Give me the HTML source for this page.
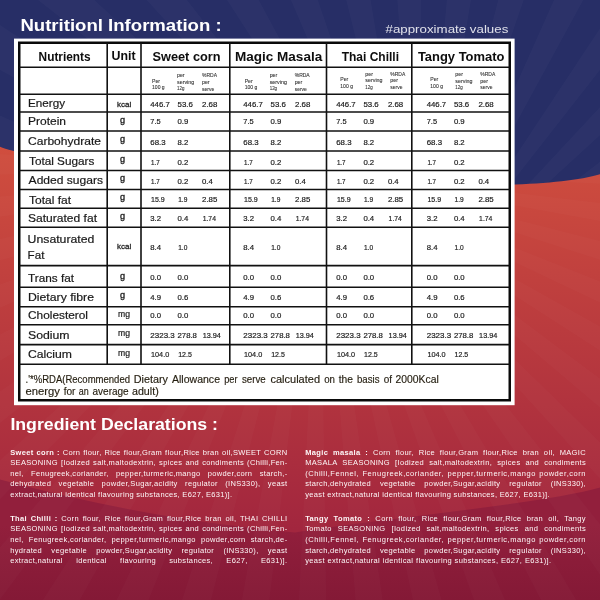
<!DOCTYPE html>
<html><head><meta charset="utf-8"><title>Nutritional Information</title>
<style>html,body{margin:0;padding:0;background:#272e66;}body{width:600px;height:600px;overflow:hidden;font-family:'Liberation Sans', sans-serif;}</style>
</head><body>
<svg width="600" height="600" viewBox="0 0 600 600" style="display:block;font-family:'Liberation Sans', sans-serif">
<defs>
<linearGradient id="rg" x1="0" y1="147" x2="0" y2="530" gradientUnits="userSpaceOnUse">
<stop offset="0" stop-color="rgb(208,78,62)"/><stop offset="1" stop-color="rgb(162,38,62)"/>
</linearGradient>
<linearGradient id="bg2" x1="0" y1="525" x2="0" y2="600" gradientUnits="userSpaceOnUse">
<stop offset="0" stop-color="rgb(146,31,60)"/><stop offset="1" stop-color="rgb(132,25,54)"/>
</linearGradient>
<clipPath id="redclip"><path d="M0,146.7 C50,168.6 499.5,204.3 600,174.3 L600,600 L0,600 Z"/></clipPath>
<filter id="soft" x="0" y="0" width="600" height="600" filterUnits="userSpaceOnUse"><feGaussianBlur stdDeviation="0.25"/></filter>
</defs>
<rect width="600" height="600" fill="#272e66"/>
<path fill="#ffffff" fill-opacity="0.022" d="M420,300 L-67,-457 L-6,-493 Z M420,300 L64,-527 L130,-552 Z M420,300 L205,-574 L274,-588 Z M420,300 L352,-597 L423,-600 Z M420,300 L500,-596 L571,-587 Z M420,300 L647,-571 L714,-550 Z M420,300 L787,-522 L850,-490 Z M420,300 L917,-450 L975,-409 Z M420,300 L1034,-358 L1084,-308 Z M420,300 L1134,-248 L1175,-190 Z M420,300 L1214,-123 L1245,-60 Z M420,300 L1273,13 L1293,81 Z M420,300 L1309,158 L1317,228 Z M420,300 L1320,306 L1317,376 Z M420,300 L1307,454 L1292,523 Z M420,300 L1269,597 L1243,663 Z M420,300 L1209,733 L1172,794 Z M420,300 L1127,857 L1081,911 Z M420,300 L1026,966 L971,1011 Z M420,300 L908,1056 L847,1092 Z M420,300 L777,1126 L711,1152 Z M420,300 L636,1174 L567,1188 Z M420,300 L489,1197 L419,1200 Z M420,300 L341,1196 L271,1188 Z M420,300 L194,1171 L127,1151 Z M420,300 L54,1122 L-9,1091 Z M420,300 L-76,1051 L-134,1009 Z M420,300 L-193,959 L-243,909 Z M420,300 L-293,849 L-334,791 Z M420,300 L-374,724 L-405,661 Z M420,300 L-433,588 L-453,520 Z M420,300 L-468,444 L-477,373 Z M420,300 L-480,295 L-477,225 Z M420,300 L-467,147 L-452,78 Z M420,300 L-430,4 L-404,-62 Z M420,300 L-369,-132 L-333,-193 Z M420,300 L-288,-256 L-242,-310 Z M420,300 L-186,-365 L-132,-411 Z"/>
<path d="M0,146.7 C50,168.6 499.5,204.3 600,174.3 L600,600 L0,600 Z" fill="url(#rg)"/>
<path d="M0,479.6 Q147,519.3 295,532.5 C395,516.5 540,504.3 600,487.5 L600,600 L0,600 Z" fill="url(#bg2)"/>
<path clip-path="url(#redclip)" fill="#ffffff" fill-opacity="0.02" d="M320,170 L307,-730 L364,-729 Z M320,170 L425,-724 L481,-715 Z M320,170 L541,-703 L595,-687 Z M320,170 L653,-666 L705,-644 Z M320,170 L759,-616 L808,-587 Z M320,170 L858,-552 L902,-516 Z M320,170 L947,-475 L987,-435 Z M320,170 L1026,-388 L1060,-342 Z M320,170 L1093,-291 L1120,-241 Z M320,170 L1147,-186 L1167,-133 Z M320,170 L1186,-75 L1200,-20 Z M320,170 L1211,40 L1217,96 Z M320,170 L1220,157 L1219,214 Z M320,170 L1214,275 L1205,331 Z M320,170 L1193,391 L1177,445 Z M320,170 L1156,503 L1134,555 Z M320,170 L1106,609 L1077,658 Z M320,170 L1042,708 L1006,752 Z M320,170 L965,797 L925,837 Z M320,170 L878,876 L832,910 Z M320,170 L781,943 L731,970 Z M320,170 L676,997 L623,1017 Z M320,170 L565,1036 L510,1050 Z M320,170 L450,1061 L394,1067 Z M320,170 L333,1070 L276,1069 Z M320,170 L215,1064 L159,1055 Z M320,170 L99,1043 L45,1027 Z M320,170 L-13,1006 L-65,984 Z M320,170 L-119,956 L-168,927 Z M320,170 L-218,892 L-262,856 Z M320,170 L-307,815 L-347,775 Z M320,170 L-386,728 L-420,682 Z M320,170 L-453,631 L-480,581 Z M320,170 L-507,526 L-527,473 Z M320,170 L-546,415 L-560,360 Z M320,170 L-571,300 L-577,244 Z M320,170 L-580,183 L-579,126 Z M320,170 L-574,65 L-565,9 Z M320,170 L-553,-51 L-537,-105 Z M320,170 L-516,-163 L-494,-215 Z M320,170 L-466,-269 L-437,-318 Z M320,170 L-402,-368 L-366,-412 Z M320,170 L-325,-457 L-285,-497 Z M320,170 L-238,-536 L-192,-570 Z M320,170 L-141,-603 L-91,-630 Z M320,170 L-36,-657 L17,-677 Z M320,170 L75,-696 L130,-710 Z M320,170 L190,-721 L246,-727 Z"/>
<rect x="14" y="38.6" width="500.6" height="366.6" fill="#ffffff"/>
<rect x="19.25" y="42.75" width="490.5" height="357.5" fill="none" stroke="#0a0a0a" stroke-width="2.5"/>
<g stroke="#111" stroke-width="1.6">
<line x1="19" y1="67.2" x2="510" y2="67.2"/>
<line x1="19" y1="94.2" x2="510" y2="94.2"/>
<line x1="19" y1="112" x2="510" y2="112"/>
<line x1="19" y1="131" x2="510" y2="131"/>
<line x1="19" y1="151" x2="510" y2="151"/>
<line x1="19" y1="170.5" x2="510" y2="170.5"/>
<line x1="19" y1="189.5" x2="510" y2="189.5"/>
<line x1="19" y1="208.2" x2="510" y2="208.2"/>
<line x1="19" y1="227.3" x2="510" y2="227.3"/>
<line x1="19" y1="265.6" x2="510" y2="265.6"/>
<line x1="19" y1="287.3" x2="510" y2="287.3"/>
<line x1="19" y1="306.8" x2="510" y2="306.8"/>
<line x1="19" y1="324.8" x2="510" y2="324.8"/>
<line x1="19" y1="344.6" x2="510" y2="344.6"/>
<line x1="19" y1="364.2" x2="510" y2="364.2"/>
<line x1="107.2" y1="43" x2="107.2" y2="364.2"/>
<line x1="141" y1="43" x2="141" y2="364.2"/>
<line x1="229.8" y1="43" x2="229.8" y2="364.2"/>
<line x1="326.5" y1="43" x2="326.5" y2="364.2"/>
<line x1="411.8" y1="43" x2="411.8" y2="364.2"/>
</g>
<g filter="url(#soft)">
<g>
<text x="20.40" y="31.40" font-size="15.6" fill="#ffffff" font-weight="bold" textLength="201.20" lengthAdjust="spacingAndGlyphs">Nutritionl Information :</text>
<text x="385.50" y="32.50" font-size="11.3" fill="#dfe0ea" textLength="122.80" lengthAdjust="spacingAndGlyphs">#approximate values</text>
<text x="10.40" y="430.00" font-size="15.6" fill="#ffffff" font-weight="bold" textLength="207.60" lengthAdjust="spacingAndGlyphs">Ingredient Declarations :</text>
<text x="38.60" y="61.00" font-size="13.2" fill="#0a0a0a" font-weight="bold" textLength="52.00" lengthAdjust="spacingAndGlyphs">Nutrients</text>
<text x="111.60" y="60.20" font-size="13.2" fill="#0a0a0a" font-weight="bold" textLength="24.00" lengthAdjust="spacingAndGlyphs">Unit</text>
<text x="152.50" y="61.00" font-size="13.2" fill="#0a0a0a" font-weight="bold" textLength="68.00" lengthAdjust="spacingAndGlyphs">Sweet corn</text>
<text x="235.00" y="61.00" font-size="13.2" fill="#0a0a0a" font-weight="bold" textLength="87.20" lengthAdjust="spacingAndGlyphs">Magic Masala</text>
<text x="341.70" y="60.80" font-size="13.2" fill="#0a0a0a" font-weight="bold" textLength="57.30" lengthAdjust="spacingAndGlyphs">Thai Chilli</text>
<text x="417.90" y="61.00" font-size="13.2" fill="#0a0a0a" font-weight="bold" textLength="86.60" lengthAdjust="spacingAndGlyphs">Tangy Tomato</text>
<text x="28.00" y="106.60" font-size="11.3" fill="#1a1a1a" textLength="37.00" lengthAdjust="spacingAndGlyphs" stroke="#1a1a1a" stroke-width="0.2">Energy</text>
<text x="28.00" y="125.40" font-size="11.3" fill="#1a1a1a" textLength="38.00" lengthAdjust="spacingAndGlyphs" stroke="#1a1a1a" stroke-width="0.2">Protein</text>
<text x="28.00" y="145.40" font-size="11.3" fill="#1a1a1a" textLength="73.00" lengthAdjust="spacingAndGlyphs" stroke="#1a1a1a" stroke-width="0.2">Carbohydrate</text>
<text x="29.00" y="165.00" font-size="11.3" fill="#1a1a1a" textLength="65.40" lengthAdjust="spacingAndGlyphs" stroke="#1a1a1a" stroke-width="0.2">Total Sugars</text>
<text x="28.60" y="184.40" font-size="11.3" fill="#1a1a1a" textLength="74.40" lengthAdjust="spacingAndGlyphs" stroke="#1a1a1a" stroke-width="0.2">Added sugars</text>
<text x="29.00" y="203.60" font-size="11.3" fill="#1a1a1a" textLength="42.00" lengthAdjust="spacingAndGlyphs" stroke="#1a1a1a" stroke-width="0.2">Total fat</text>
<text x="28.00" y="222.40" font-size="11.3" fill="#1a1a1a" textLength="69.00" lengthAdjust="spacingAndGlyphs" stroke="#1a1a1a" stroke-width="0.2">Saturated fat</text>
<text x="27.60" y="243.00" font-size="11.3" fill="#1a1a1a" textLength="66.80" lengthAdjust="spacingAndGlyphs" stroke="#1a1a1a" stroke-width="0.2">Unsaturated</text>
<text x="27.60" y="258.60" font-size="11.3" fill="#1a1a1a" textLength="16.80" lengthAdjust="spacingAndGlyphs" stroke="#1a1a1a" stroke-width="0.2">Fat</text>
<text x="28.00" y="281.60" font-size="11.3" fill="#1a1a1a" textLength="46.00" lengthAdjust="spacingAndGlyphs" stroke="#1a1a1a" stroke-width="0.2">Trans fat</text>
<text x="28.00" y="301.00" font-size="11.3" fill="#1a1a1a" textLength="66.00" lengthAdjust="spacingAndGlyphs" stroke="#1a1a1a" stroke-width="0.2">Dietary fibre</text>
<text x="28.00" y="319.40" font-size="11.3" fill="#1a1a1a" textLength="60.00" lengthAdjust="spacingAndGlyphs" stroke="#1a1a1a" stroke-width="0.2">Cholesterol</text>
<text x="28.00" y="339.00" font-size="11.3" fill="#1a1a1a" textLength="41.60" lengthAdjust="spacingAndGlyphs" stroke="#1a1a1a" stroke-width="0.2">Sodium</text>
<text x="28.00" y="358.40" font-size="11.3" fill="#1a1a1a" textLength="44.00" lengthAdjust="spacingAndGlyphs" stroke="#1a1a1a" stroke-width="0.2">Calcium</text>
<text x="117.00" y="106.60" font-size="7.8" fill="#222" textLength="14.20" lengthAdjust="spacingAndGlyphs" stroke="#222" stroke-width="0.28">kcal</text>
<text x="120.00" y="122.70" font-size="8.7" fill="#222" textLength="5.10" lengthAdjust="spacingAndGlyphs" stroke="#222" stroke-width="0.32">g</text>
<text x="120.00" y="142.40" font-size="8.7" fill="#222" textLength="5.10" lengthAdjust="spacingAndGlyphs" stroke="#222" stroke-width="0.32">g</text>
<text x="120.00" y="162.10" font-size="8.7" fill="#222" textLength="5.10" lengthAdjust="spacingAndGlyphs" stroke="#222" stroke-width="0.32">g</text>
<text x="120.00" y="181.40" font-size="8.7" fill="#222" textLength="5.10" lengthAdjust="spacingAndGlyphs" stroke="#222" stroke-width="0.32">g</text>
<text x="120.00" y="200.10" font-size="8.7" fill="#222" textLength="5.10" lengthAdjust="spacingAndGlyphs" stroke="#222" stroke-width="0.32">g</text>
<text x="120.00" y="219.40" font-size="8.7" fill="#222" textLength="5.10" lengthAdjust="spacingAndGlyphs" stroke="#222" stroke-width="0.32">g</text>
<text x="117.00" y="249.00" font-size="7.8" fill="#222" textLength="14.20" lengthAdjust="spacingAndGlyphs" stroke="#222" stroke-width="0.28">kcal</text>
<text x="120.00" y="278.70" font-size="8.7" fill="#222" textLength="5.10" lengthAdjust="spacingAndGlyphs" stroke="#222" stroke-width="0.32">g</text>
<text x="120.00" y="298.40" font-size="8.7" fill="#222" textLength="5.10" lengthAdjust="spacingAndGlyphs" stroke="#222" stroke-width="0.32">g</text>
<text x="118.00" y="316.80" font-size="8.3" fill="#222" textLength="12.00" lengthAdjust="spacingAndGlyphs" stroke="#222" stroke-width="0.2">mg</text>
<text x="118.00" y="336.40" font-size="8.3" fill="#222" textLength="12.00" lengthAdjust="spacingAndGlyphs" stroke="#222" stroke-width="0.2">mg</text>
<text x="118.00" y="355.80" font-size="8.3" fill="#222" textLength="12.00" lengthAdjust="spacingAndGlyphs" stroke="#222" stroke-width="0.2">mg</text>
<text x="150.30" y="106.80" font-size="8.1" fill="#1c1c1c" textLength="19.45" lengthAdjust="spacingAndGlyphs" stroke="#1c1c1c" stroke-width="0.2">446.7</text>
<text x="177.50" y="106.80" font-size="8.1" fill="#1c1c1c" textLength="15.35" lengthAdjust="spacingAndGlyphs" stroke="#1c1c1c" stroke-width="0.2">53.6</text>
<text x="202.00" y="106.80" font-size="8.1" fill="#1c1c1c" textLength="15.35" lengthAdjust="spacingAndGlyphs" stroke="#1c1c1c" stroke-width="0.2">2.68</text>
<text x="243.30" y="106.80" font-size="8.1" fill="#1c1c1c" textLength="19.45" lengthAdjust="spacingAndGlyphs" stroke="#1c1c1c" stroke-width="0.2">446.7</text>
<text x="270.50" y="106.80" font-size="8.1" fill="#1c1c1c" textLength="15.35" lengthAdjust="spacingAndGlyphs" stroke="#1c1c1c" stroke-width="0.2">53.6</text>
<text x="295.00" y="106.80" font-size="8.1" fill="#1c1c1c" textLength="15.35" lengthAdjust="spacingAndGlyphs" stroke="#1c1c1c" stroke-width="0.2">2.68</text>
<text x="336.20" y="106.80" font-size="8.1" fill="#1c1c1c" textLength="19.45" lengthAdjust="spacingAndGlyphs" stroke="#1c1c1c" stroke-width="0.2">446.7</text>
<text x="363.40" y="106.80" font-size="8.1" fill="#1c1c1c" textLength="15.35" lengthAdjust="spacingAndGlyphs" stroke="#1c1c1c" stroke-width="0.2">53.6</text>
<text x="387.90" y="106.80" font-size="8.1" fill="#1c1c1c" textLength="15.35" lengthAdjust="spacingAndGlyphs" stroke="#1c1c1c" stroke-width="0.2">2.68</text>
<text x="426.70" y="106.80" font-size="8.1" fill="#1c1c1c" textLength="19.45" lengthAdjust="spacingAndGlyphs" stroke="#1c1c1c" stroke-width="0.2">446.7</text>
<text x="453.90" y="106.80" font-size="8.1" fill="#1c1c1c" textLength="15.35" lengthAdjust="spacingAndGlyphs" stroke="#1c1c1c" stroke-width="0.2">53.6</text>
<text x="478.40" y="106.80" font-size="8.1" fill="#1c1c1c" textLength="15.35" lengthAdjust="spacingAndGlyphs" stroke="#1c1c1c" stroke-width="0.2">2.68</text>
<text x="150.30" y="124.20" font-size="8.1" fill="#1c1c1c" textLength="10.35" lengthAdjust="spacingAndGlyphs" stroke="#1c1c1c" stroke-width="0.2">7.5</text>
<text x="177.50" y="124.20" font-size="8.1" fill="#1c1c1c" textLength="10.80" lengthAdjust="spacingAndGlyphs" stroke="#1c1c1c" stroke-width="0.2">0.9</text>
<text x="243.30" y="124.20" font-size="8.1" fill="#1c1c1c" textLength="10.35" lengthAdjust="spacingAndGlyphs" stroke="#1c1c1c" stroke-width="0.2">7.5</text>
<text x="270.50" y="124.20" font-size="8.1" fill="#1c1c1c" textLength="10.80" lengthAdjust="spacingAndGlyphs" stroke="#1c1c1c" stroke-width="0.2">0.9</text>
<text x="336.20" y="124.20" font-size="8.1" fill="#1c1c1c" textLength="10.35" lengthAdjust="spacingAndGlyphs" stroke="#1c1c1c" stroke-width="0.2">7.5</text>
<text x="363.40" y="124.20" font-size="8.1" fill="#1c1c1c" textLength="10.80" lengthAdjust="spacingAndGlyphs" stroke="#1c1c1c" stroke-width="0.2">0.9</text>
<text x="426.70" y="124.20" font-size="8.1" fill="#1c1c1c" textLength="10.35" lengthAdjust="spacingAndGlyphs" stroke="#1c1c1c" stroke-width="0.2">7.5</text>
<text x="453.90" y="124.20" font-size="8.1" fill="#1c1c1c" textLength="10.80" lengthAdjust="spacingAndGlyphs" stroke="#1c1c1c" stroke-width="0.2">0.9</text>
<text x="150.30" y="144.80" font-size="8.1" fill="#1c1c1c" textLength="15.35" lengthAdjust="spacingAndGlyphs" stroke="#1c1c1c" stroke-width="0.2">68.3</text>
<text x="177.50" y="144.80" font-size="8.1" fill="#1c1c1c" textLength="10.80" lengthAdjust="spacingAndGlyphs" stroke="#1c1c1c" stroke-width="0.2">8.2</text>
<text x="243.30" y="144.80" font-size="8.1" fill="#1c1c1c" textLength="15.35" lengthAdjust="spacingAndGlyphs" stroke="#1c1c1c" stroke-width="0.2">68.3</text>
<text x="270.50" y="144.80" font-size="8.1" fill="#1c1c1c" textLength="10.80" lengthAdjust="spacingAndGlyphs" stroke="#1c1c1c" stroke-width="0.2">8.2</text>
<text x="336.20" y="144.80" font-size="8.1" fill="#1c1c1c" textLength="15.35" lengthAdjust="spacingAndGlyphs" stroke="#1c1c1c" stroke-width="0.2">68.3</text>
<text x="363.40" y="144.80" font-size="8.1" fill="#1c1c1c" textLength="10.80" lengthAdjust="spacingAndGlyphs" stroke="#1c1c1c" stroke-width="0.2">8.2</text>
<text x="426.70" y="144.80" font-size="8.1" fill="#1c1c1c" textLength="15.35" lengthAdjust="spacingAndGlyphs" stroke="#1c1c1c" stroke-width="0.2">68.3</text>
<text x="453.90" y="144.80" font-size="8.1" fill="#1c1c1c" textLength="10.80" lengthAdjust="spacingAndGlyphs" stroke="#1c1c1c" stroke-width="0.2">8.2</text>
<text x="151.00" y="164.60" font-size="8.1" fill="#1c1c1c" textLength="8.70" lengthAdjust="spacingAndGlyphs" stroke="#1c1c1c" stroke-width="0.2">1.7</text>
<text x="177.50" y="164.60" font-size="8.1" fill="#1c1c1c" textLength="10.80" lengthAdjust="spacingAndGlyphs" stroke="#1c1c1c" stroke-width="0.2">0.2</text>
<text x="244.00" y="164.60" font-size="8.1" fill="#1c1c1c" textLength="8.70" lengthAdjust="spacingAndGlyphs" stroke="#1c1c1c" stroke-width="0.2">1.7</text>
<text x="270.50" y="164.60" font-size="8.1" fill="#1c1c1c" textLength="10.80" lengthAdjust="spacingAndGlyphs" stroke="#1c1c1c" stroke-width="0.2">0.2</text>
<text x="336.90" y="164.60" font-size="8.1" fill="#1c1c1c" textLength="8.70" lengthAdjust="spacingAndGlyphs" stroke="#1c1c1c" stroke-width="0.2">1.7</text>
<text x="363.40" y="164.60" font-size="8.1" fill="#1c1c1c" textLength="10.80" lengthAdjust="spacingAndGlyphs" stroke="#1c1c1c" stroke-width="0.2">0.2</text>
<text x="427.40" y="164.60" font-size="8.1" fill="#1c1c1c" textLength="8.70" lengthAdjust="spacingAndGlyphs" stroke="#1c1c1c" stroke-width="0.2">1.7</text>
<text x="453.90" y="164.60" font-size="8.1" fill="#1c1c1c" textLength="10.80" lengthAdjust="spacingAndGlyphs" stroke="#1c1c1c" stroke-width="0.2">0.2</text>
<text x="151.00" y="183.70" font-size="8.1" fill="#1c1c1c" textLength="8.70" lengthAdjust="spacingAndGlyphs" stroke="#1c1c1c" stroke-width="0.2">1.7</text>
<text x="177.50" y="183.70" font-size="8.1" fill="#1c1c1c" textLength="10.80" lengthAdjust="spacingAndGlyphs" stroke="#1c1c1c" stroke-width="0.2">0.2</text>
<text x="202.00" y="183.70" font-size="8.1" fill="#1c1c1c" textLength="10.80" lengthAdjust="spacingAndGlyphs" stroke="#1c1c1c" stroke-width="0.2">0.4</text>
<text x="244.00" y="183.70" font-size="8.1" fill="#1c1c1c" textLength="8.70" lengthAdjust="spacingAndGlyphs" stroke="#1c1c1c" stroke-width="0.2">1.7</text>
<text x="270.50" y="183.70" font-size="8.1" fill="#1c1c1c" textLength="10.80" lengthAdjust="spacingAndGlyphs" stroke="#1c1c1c" stroke-width="0.2">0.2</text>
<text x="295.00" y="183.70" font-size="8.1" fill="#1c1c1c" textLength="10.80" lengthAdjust="spacingAndGlyphs" stroke="#1c1c1c" stroke-width="0.2">0.4</text>
<text x="336.90" y="183.70" font-size="8.1" fill="#1c1c1c" textLength="8.70" lengthAdjust="spacingAndGlyphs" stroke="#1c1c1c" stroke-width="0.2">1.7</text>
<text x="363.40" y="183.70" font-size="8.1" fill="#1c1c1c" textLength="10.80" lengthAdjust="spacingAndGlyphs" stroke="#1c1c1c" stroke-width="0.2">0.2</text>
<text x="387.90" y="183.70" font-size="8.1" fill="#1c1c1c" textLength="10.80" lengthAdjust="spacingAndGlyphs" stroke="#1c1c1c" stroke-width="0.2">0.4</text>
<text x="427.40" y="183.70" font-size="8.1" fill="#1c1c1c" textLength="8.70" lengthAdjust="spacingAndGlyphs" stroke="#1c1c1c" stroke-width="0.2">1.7</text>
<text x="453.90" y="183.70" font-size="8.1" fill="#1c1c1c" textLength="10.80" lengthAdjust="spacingAndGlyphs" stroke="#1c1c1c" stroke-width="0.2">0.2</text>
<text x="478.40" y="183.70" font-size="8.1" fill="#1c1c1c" textLength="10.80" lengthAdjust="spacingAndGlyphs" stroke="#1c1c1c" stroke-width="0.2">0.4</text>
<text x="151.00" y="201.90" font-size="8.1" fill="#1c1c1c" textLength="13.70" lengthAdjust="spacingAndGlyphs" stroke="#1c1c1c" stroke-width="0.2">15.9</text>
<text x="178.20" y="201.90" font-size="8.1" fill="#1c1c1c" textLength="9.15" lengthAdjust="spacingAndGlyphs" stroke="#1c1c1c" stroke-width="0.2">1.9</text>
<text x="202.00" y="201.90" font-size="8.1" fill="#1c1c1c" textLength="15.35" lengthAdjust="spacingAndGlyphs" stroke="#1c1c1c" stroke-width="0.2">2.85</text>
<text x="244.00" y="201.90" font-size="8.1" fill="#1c1c1c" textLength="13.70" lengthAdjust="spacingAndGlyphs" stroke="#1c1c1c" stroke-width="0.2">15.9</text>
<text x="271.20" y="201.90" font-size="8.1" fill="#1c1c1c" textLength="9.15" lengthAdjust="spacingAndGlyphs" stroke="#1c1c1c" stroke-width="0.2">1.9</text>
<text x="295.00" y="201.90" font-size="8.1" fill="#1c1c1c" textLength="15.35" lengthAdjust="spacingAndGlyphs" stroke="#1c1c1c" stroke-width="0.2">2.85</text>
<text x="336.90" y="201.90" font-size="8.1" fill="#1c1c1c" textLength="13.70" lengthAdjust="spacingAndGlyphs" stroke="#1c1c1c" stroke-width="0.2">15.9</text>
<text x="364.10" y="201.90" font-size="8.1" fill="#1c1c1c" textLength="9.15" lengthAdjust="spacingAndGlyphs" stroke="#1c1c1c" stroke-width="0.2">1.9</text>
<text x="387.90" y="201.90" font-size="8.1" fill="#1c1c1c" textLength="15.35" lengthAdjust="spacingAndGlyphs" stroke="#1c1c1c" stroke-width="0.2">2.85</text>
<text x="427.40" y="201.90" font-size="8.1" fill="#1c1c1c" textLength="13.70" lengthAdjust="spacingAndGlyphs" stroke="#1c1c1c" stroke-width="0.2">15.9</text>
<text x="454.60" y="201.90" font-size="8.1" fill="#1c1c1c" textLength="9.15" lengthAdjust="spacingAndGlyphs" stroke="#1c1c1c" stroke-width="0.2">1.9</text>
<text x="478.40" y="201.90" font-size="8.1" fill="#1c1c1c" textLength="15.35" lengthAdjust="spacingAndGlyphs" stroke="#1c1c1c" stroke-width="0.2">2.85</text>
<text x="150.30" y="221.00" font-size="8.1" fill="#1c1c1c" textLength="10.80" lengthAdjust="spacingAndGlyphs" stroke="#1c1c1c" stroke-width="0.2">3.2</text>
<text x="177.50" y="221.00" font-size="8.1" fill="#1c1c1c" textLength="10.80" lengthAdjust="spacingAndGlyphs" stroke="#1c1c1c" stroke-width="0.2">0.4</text>
<text x="202.70" y="221.00" font-size="8.1" fill="#1c1c1c" textLength="13.25" lengthAdjust="spacingAndGlyphs" stroke="#1c1c1c" stroke-width="0.2">1.74</text>
<text x="243.30" y="221.00" font-size="8.1" fill="#1c1c1c" textLength="10.80" lengthAdjust="spacingAndGlyphs" stroke="#1c1c1c" stroke-width="0.2">3.2</text>
<text x="270.50" y="221.00" font-size="8.1" fill="#1c1c1c" textLength="10.80" lengthAdjust="spacingAndGlyphs" stroke="#1c1c1c" stroke-width="0.2">0.4</text>
<text x="295.70" y="221.00" font-size="8.1" fill="#1c1c1c" textLength="13.25" lengthAdjust="spacingAndGlyphs" stroke="#1c1c1c" stroke-width="0.2">1.74</text>
<text x="336.20" y="221.00" font-size="8.1" fill="#1c1c1c" textLength="10.80" lengthAdjust="spacingAndGlyphs" stroke="#1c1c1c" stroke-width="0.2">3.2</text>
<text x="363.40" y="221.00" font-size="8.1" fill="#1c1c1c" textLength="10.80" lengthAdjust="spacingAndGlyphs" stroke="#1c1c1c" stroke-width="0.2">0.4</text>
<text x="388.60" y="221.00" font-size="8.1" fill="#1c1c1c" textLength="13.25" lengthAdjust="spacingAndGlyphs" stroke="#1c1c1c" stroke-width="0.2">1.74</text>
<text x="426.70" y="221.00" font-size="8.1" fill="#1c1c1c" textLength="10.80" lengthAdjust="spacingAndGlyphs" stroke="#1c1c1c" stroke-width="0.2">3.2</text>
<text x="453.90" y="221.00" font-size="8.1" fill="#1c1c1c" textLength="10.80" lengthAdjust="spacingAndGlyphs" stroke="#1c1c1c" stroke-width="0.2">0.4</text>
<text x="479.10" y="221.00" font-size="8.1" fill="#1c1c1c" textLength="13.25" lengthAdjust="spacingAndGlyphs" stroke="#1c1c1c" stroke-width="0.2">1.74</text>
<text x="150.30" y="249.50" font-size="8.1" fill="#1c1c1c" textLength="10.80" lengthAdjust="spacingAndGlyphs" stroke="#1c1c1c" stroke-width="0.2">8.4</text>
<text x="178.20" y="249.50" font-size="8.1" fill="#1c1c1c" textLength="9.15" lengthAdjust="spacingAndGlyphs" stroke="#1c1c1c" stroke-width="0.2">1.0</text>
<text x="243.30" y="249.50" font-size="8.1" fill="#1c1c1c" textLength="10.80" lengthAdjust="spacingAndGlyphs" stroke="#1c1c1c" stroke-width="0.2">8.4</text>
<text x="271.20" y="249.50" font-size="8.1" fill="#1c1c1c" textLength="9.15" lengthAdjust="spacingAndGlyphs" stroke="#1c1c1c" stroke-width="0.2">1.0</text>
<text x="336.20" y="249.50" font-size="8.1" fill="#1c1c1c" textLength="10.80" lengthAdjust="spacingAndGlyphs" stroke="#1c1c1c" stroke-width="0.2">8.4</text>
<text x="364.10" y="249.50" font-size="8.1" fill="#1c1c1c" textLength="9.15" lengthAdjust="spacingAndGlyphs" stroke="#1c1c1c" stroke-width="0.2">1.0</text>
<text x="426.70" y="249.50" font-size="8.1" fill="#1c1c1c" textLength="10.80" lengthAdjust="spacingAndGlyphs" stroke="#1c1c1c" stroke-width="0.2">8.4</text>
<text x="454.60" y="249.50" font-size="8.1" fill="#1c1c1c" textLength="9.15" lengthAdjust="spacingAndGlyphs" stroke="#1c1c1c" stroke-width="0.2">1.0</text>
<text x="150.30" y="280.20" font-size="8.1" fill="#1c1c1c" textLength="10.80" lengthAdjust="spacingAndGlyphs" stroke="#1c1c1c" stroke-width="0.2">0.0</text>
<text x="177.50" y="280.20" font-size="8.1" fill="#1c1c1c" textLength="10.80" lengthAdjust="spacingAndGlyphs" stroke="#1c1c1c" stroke-width="0.2">0.0</text>
<text x="243.30" y="280.20" font-size="8.1" fill="#1c1c1c" textLength="10.80" lengthAdjust="spacingAndGlyphs" stroke="#1c1c1c" stroke-width="0.2">0.0</text>
<text x="270.50" y="280.20" font-size="8.1" fill="#1c1c1c" textLength="10.80" lengthAdjust="spacingAndGlyphs" stroke="#1c1c1c" stroke-width="0.2">0.0</text>
<text x="336.20" y="280.20" font-size="8.1" fill="#1c1c1c" textLength="10.80" lengthAdjust="spacingAndGlyphs" stroke="#1c1c1c" stroke-width="0.2">0.0</text>
<text x="363.40" y="280.20" font-size="8.1" fill="#1c1c1c" textLength="10.80" lengthAdjust="spacingAndGlyphs" stroke="#1c1c1c" stroke-width="0.2">0.0</text>
<text x="426.70" y="280.20" font-size="8.1" fill="#1c1c1c" textLength="10.80" lengthAdjust="spacingAndGlyphs" stroke="#1c1c1c" stroke-width="0.2">0.0</text>
<text x="453.90" y="280.20" font-size="8.1" fill="#1c1c1c" textLength="10.80" lengthAdjust="spacingAndGlyphs" stroke="#1c1c1c" stroke-width="0.2">0.0</text>
<text x="150.30" y="300.30" font-size="8.1" fill="#1c1c1c" textLength="10.80" lengthAdjust="spacingAndGlyphs" stroke="#1c1c1c" stroke-width="0.2">4.9</text>
<text x="177.50" y="300.30" font-size="8.1" fill="#1c1c1c" textLength="10.80" lengthAdjust="spacingAndGlyphs" stroke="#1c1c1c" stroke-width="0.2">0.6</text>
<text x="243.30" y="300.30" font-size="8.1" fill="#1c1c1c" textLength="10.80" lengthAdjust="spacingAndGlyphs" stroke="#1c1c1c" stroke-width="0.2">4.9</text>
<text x="270.50" y="300.30" font-size="8.1" fill="#1c1c1c" textLength="10.80" lengthAdjust="spacingAndGlyphs" stroke="#1c1c1c" stroke-width="0.2">0.6</text>
<text x="336.20" y="300.30" font-size="8.1" fill="#1c1c1c" textLength="10.80" lengthAdjust="spacingAndGlyphs" stroke="#1c1c1c" stroke-width="0.2">4.9</text>
<text x="363.40" y="300.30" font-size="8.1" fill="#1c1c1c" textLength="10.80" lengthAdjust="spacingAndGlyphs" stroke="#1c1c1c" stroke-width="0.2">0.6</text>
<text x="426.70" y="300.30" font-size="8.1" fill="#1c1c1c" textLength="10.80" lengthAdjust="spacingAndGlyphs" stroke="#1c1c1c" stroke-width="0.2">4.9</text>
<text x="453.90" y="300.30" font-size="8.1" fill="#1c1c1c" textLength="10.80" lengthAdjust="spacingAndGlyphs" stroke="#1c1c1c" stroke-width="0.2">0.6</text>
<text x="150.30" y="317.80" font-size="8.1" fill="#1c1c1c" textLength="10.80" lengthAdjust="spacingAndGlyphs" stroke="#1c1c1c" stroke-width="0.2">0.0</text>
<text x="177.50" y="317.80" font-size="8.1" fill="#1c1c1c" textLength="10.80" lengthAdjust="spacingAndGlyphs" stroke="#1c1c1c" stroke-width="0.2">0.0</text>
<text x="243.30" y="317.80" font-size="8.1" fill="#1c1c1c" textLength="10.80" lengthAdjust="spacingAndGlyphs" stroke="#1c1c1c" stroke-width="0.2">0.0</text>
<text x="270.50" y="317.80" font-size="8.1" fill="#1c1c1c" textLength="10.80" lengthAdjust="spacingAndGlyphs" stroke="#1c1c1c" stroke-width="0.2">0.0</text>
<text x="336.20" y="317.80" font-size="8.1" fill="#1c1c1c" textLength="10.80" lengthAdjust="spacingAndGlyphs" stroke="#1c1c1c" stroke-width="0.2">0.0</text>
<text x="363.40" y="317.80" font-size="8.1" fill="#1c1c1c" textLength="10.80" lengthAdjust="spacingAndGlyphs" stroke="#1c1c1c" stroke-width="0.2">0.0</text>
<text x="426.70" y="317.80" font-size="8.1" fill="#1c1c1c" textLength="10.80" lengthAdjust="spacingAndGlyphs" stroke="#1c1c1c" stroke-width="0.2">0.0</text>
<text x="453.90" y="317.80" font-size="8.1" fill="#1c1c1c" textLength="10.80" lengthAdjust="spacingAndGlyphs" stroke="#1c1c1c" stroke-width="0.2">0.0</text>
<text x="150.30" y="337.60" font-size="8.1" fill="#1c1c1c" textLength="24.45" lengthAdjust="spacingAndGlyphs" stroke="#1c1c1c" stroke-width="0.2">2323.3</text>
<text x="177.50" y="337.60" font-size="8.1" fill="#1c1c1c" textLength="19.45" lengthAdjust="spacingAndGlyphs" stroke="#1c1c1c" stroke-width="0.2">278.8</text>
<text x="202.70" y="337.60" font-size="8.1" fill="#1c1c1c" textLength="18.25" lengthAdjust="spacingAndGlyphs" stroke="#1c1c1c" stroke-width="0.2">13.94</text>
<text x="243.30" y="337.60" font-size="8.1" fill="#1c1c1c" textLength="24.45" lengthAdjust="spacingAndGlyphs" stroke="#1c1c1c" stroke-width="0.2">2323.3</text>
<text x="270.50" y="337.60" font-size="8.1" fill="#1c1c1c" textLength="19.45" lengthAdjust="spacingAndGlyphs" stroke="#1c1c1c" stroke-width="0.2">278.8</text>
<text x="295.70" y="337.60" font-size="8.1" fill="#1c1c1c" textLength="18.25" lengthAdjust="spacingAndGlyphs" stroke="#1c1c1c" stroke-width="0.2">13.94</text>
<text x="336.20" y="337.60" font-size="8.1" fill="#1c1c1c" textLength="24.45" lengthAdjust="spacingAndGlyphs" stroke="#1c1c1c" stroke-width="0.2">2323.3</text>
<text x="363.40" y="337.60" font-size="8.1" fill="#1c1c1c" textLength="19.45" lengthAdjust="spacingAndGlyphs" stroke="#1c1c1c" stroke-width="0.2">278.8</text>
<text x="388.60" y="337.60" font-size="8.1" fill="#1c1c1c" textLength="18.25" lengthAdjust="spacingAndGlyphs" stroke="#1c1c1c" stroke-width="0.2">13.94</text>
<text x="426.70" y="337.60" font-size="8.1" fill="#1c1c1c" textLength="24.45" lengthAdjust="spacingAndGlyphs" stroke="#1c1c1c" stroke-width="0.2">2323.3</text>
<text x="453.90" y="337.60" font-size="8.1" fill="#1c1c1c" textLength="19.45" lengthAdjust="spacingAndGlyphs" stroke="#1c1c1c" stroke-width="0.2">278.8</text>
<text x="479.10" y="337.60" font-size="8.1" fill="#1c1c1c" textLength="18.25" lengthAdjust="spacingAndGlyphs" stroke="#1c1c1c" stroke-width="0.2">13.94</text>
<text x="151.00" y="356.70" font-size="8.1" fill="#1c1c1c" textLength="18.25" lengthAdjust="spacingAndGlyphs" stroke="#1c1c1c" stroke-width="0.2">104.0</text>
<text x="178.20" y="356.70" font-size="8.1" fill="#1c1c1c" textLength="13.70" lengthAdjust="spacingAndGlyphs" stroke="#1c1c1c" stroke-width="0.2">12.5</text>
<text x="244.00" y="356.70" font-size="8.1" fill="#1c1c1c" textLength="18.25" lengthAdjust="spacingAndGlyphs" stroke="#1c1c1c" stroke-width="0.2">104.0</text>
<text x="271.20" y="356.70" font-size="8.1" fill="#1c1c1c" textLength="13.70" lengthAdjust="spacingAndGlyphs" stroke="#1c1c1c" stroke-width="0.2">12.5</text>
<text x="336.90" y="356.70" font-size="8.1" fill="#1c1c1c" textLength="18.25" lengthAdjust="spacingAndGlyphs" stroke="#1c1c1c" stroke-width="0.2">104.0</text>
<text x="364.10" y="356.70" font-size="8.1" fill="#1c1c1c" textLength="13.70" lengthAdjust="spacingAndGlyphs" stroke="#1c1c1c" stroke-width="0.2">12.5</text>
<text x="427.40" y="356.70" font-size="8.1" fill="#1c1c1c" textLength="18.25" lengthAdjust="spacingAndGlyphs" stroke="#1c1c1c" stroke-width="0.2">104.0</text>
<text x="454.60" y="356.70" font-size="8.1" fill="#1c1c1c" textLength="13.70" lengthAdjust="spacingAndGlyphs" stroke="#1c1c1c" stroke-width="0.2">12.5</text>
<text x="152.00" y="82.70" font-size="4.9" fill="#2e2e2e" textLength="8.00" lengthAdjust="spacingAndGlyphs" stroke="#2e2e2e" stroke-width="0.08">Per</text>
<text x="152.00" y="89.30" font-size="4.9" fill="#2e2e2e" textLength="12.70" lengthAdjust="spacingAndGlyphs" stroke="#2e2e2e" stroke-width="0.08">100 g</text>
<text x="177.00" y="77.30" font-size="4.9" fill="#2e2e2e" textLength="7.60" lengthAdjust="spacingAndGlyphs" stroke="#2e2e2e" stroke-width="0.08">per</text>
<text x="177.00" y="84.00" font-size="4.9" fill="#2e2e2e" textLength="17.20" lengthAdjust="spacingAndGlyphs" stroke="#2e2e2e" stroke-width="0.08">serving</text>
<text x="177.00" y="90.40" font-size="4.9" fill="#2e2e2e" textLength="7.40" lengthAdjust="spacingAndGlyphs" stroke="#2e2e2e" stroke-width="0.08">12g</text>
<text x="202.00" y="77.20" font-size="4.9" fill="#2e2e2e" textLength="15.00" lengthAdjust="spacingAndGlyphs" stroke="#2e2e2e" stroke-width="0.08">%RDA</text>
<text x="202.00" y="84.00" font-size="4.9" fill="#2e2e2e" textLength="7.60" lengthAdjust="spacingAndGlyphs" stroke="#2e2e2e" stroke-width="0.08">per</text>
<text x="202.00" y="90.60" font-size="4.9" fill="#2e2e2e" textLength="12.20" lengthAdjust="spacingAndGlyphs" stroke="#2e2e2e" stroke-width="0.08">serve</text>
<text x="244.70" y="82.70" font-size="4.9" fill="#2e2e2e" textLength="8.00" lengthAdjust="spacingAndGlyphs" stroke="#2e2e2e" stroke-width="0.08">Per</text>
<text x="244.70" y="89.30" font-size="4.9" fill="#2e2e2e" textLength="12.70" lengthAdjust="spacingAndGlyphs" stroke="#2e2e2e" stroke-width="0.08">100 g</text>
<text x="269.70" y="77.30" font-size="4.9" fill="#2e2e2e" textLength="7.60" lengthAdjust="spacingAndGlyphs" stroke="#2e2e2e" stroke-width="0.08">per</text>
<text x="269.70" y="84.00" font-size="4.9" fill="#2e2e2e" textLength="17.20" lengthAdjust="spacingAndGlyphs" stroke="#2e2e2e" stroke-width="0.08">serving</text>
<text x="269.70" y="90.40" font-size="4.9" fill="#2e2e2e" textLength="7.40" lengthAdjust="spacingAndGlyphs" stroke="#2e2e2e" stroke-width="0.08">12g</text>
<text x="294.70" y="77.20" font-size="4.9" fill="#2e2e2e" textLength="15.00" lengthAdjust="spacingAndGlyphs" stroke="#2e2e2e" stroke-width="0.08">%RDA</text>
<text x="294.70" y="84.00" font-size="4.9" fill="#2e2e2e" textLength="7.60" lengthAdjust="spacingAndGlyphs" stroke="#2e2e2e" stroke-width="0.08">per</text>
<text x="294.70" y="90.60" font-size="4.9" fill="#2e2e2e" textLength="12.20" lengthAdjust="spacingAndGlyphs" stroke="#2e2e2e" stroke-width="0.08">serve</text>
<text x="340.30" y="80.90" font-size="4.9" fill="#2e2e2e" textLength="8.00" lengthAdjust="spacingAndGlyphs" stroke="#2e2e2e" stroke-width="0.08">Per</text>
<text x="340.30" y="87.50" font-size="4.9" fill="#2e2e2e" textLength="12.70" lengthAdjust="spacingAndGlyphs" stroke="#2e2e2e" stroke-width="0.08">100 g</text>
<text x="365.30" y="75.68" font-size="4.9" fill="#2e2e2e" textLength="7.60" lengthAdjust="spacingAndGlyphs" stroke="#2e2e2e" stroke-width="0.08">per</text>
<text x="365.30" y="82.38" font-size="4.9" fill="#2e2e2e" textLength="17.20" lengthAdjust="spacingAndGlyphs" stroke="#2e2e2e" stroke-width="0.08">serving</text>
<text x="365.30" y="88.78" font-size="4.9" fill="#2e2e2e" textLength="7.40" lengthAdjust="spacingAndGlyphs" stroke="#2e2e2e" stroke-width="0.08">12g</text>
<text x="390.30" y="75.58" font-size="4.9" fill="#2e2e2e" textLength="15.00" lengthAdjust="spacingAndGlyphs" stroke="#2e2e2e" stroke-width="0.08">%RDA</text>
<text x="390.30" y="82.38" font-size="4.9" fill="#2e2e2e" textLength="7.60" lengthAdjust="spacingAndGlyphs" stroke="#2e2e2e" stroke-width="0.08">per</text>
<text x="390.30" y="88.98" font-size="4.9" fill="#2e2e2e" textLength="12.20" lengthAdjust="spacingAndGlyphs" stroke="#2e2e2e" stroke-width="0.08">serve</text>
<text x="430.30" y="81.10" font-size="4.9" fill="#2e2e2e" textLength="8.00" lengthAdjust="spacingAndGlyphs" stroke="#2e2e2e" stroke-width="0.08">Per</text>
<text x="430.30" y="87.70" font-size="4.9" fill="#2e2e2e" textLength="12.70" lengthAdjust="spacingAndGlyphs" stroke="#2e2e2e" stroke-width="0.08">100 g</text>
<text x="455.30" y="75.86" font-size="4.9" fill="#2e2e2e" textLength="7.60" lengthAdjust="spacingAndGlyphs" stroke="#2e2e2e" stroke-width="0.08">per</text>
<text x="455.30" y="82.56" font-size="4.9" fill="#2e2e2e" textLength="17.20" lengthAdjust="spacingAndGlyphs" stroke="#2e2e2e" stroke-width="0.08">serving</text>
<text x="455.30" y="88.96" font-size="4.9" fill="#2e2e2e" textLength="7.40" lengthAdjust="spacingAndGlyphs" stroke="#2e2e2e" stroke-width="0.08">12g</text>
<text x="480.30" y="75.76" font-size="4.9" fill="#2e2e2e" textLength="15.00" lengthAdjust="spacingAndGlyphs" stroke="#2e2e2e" stroke-width="0.08">%RDA</text>
<text x="480.30" y="82.56" font-size="4.9" fill="#2e2e2e" textLength="7.60" lengthAdjust="spacingAndGlyphs" stroke="#2e2e2e" stroke-width="0.08">per</text>
<text x="480.30" y="89.16" font-size="4.9" fill="#2e2e2e" textLength="12.20" lengthAdjust="spacingAndGlyphs" stroke="#2e2e2e" stroke-width="0.08">serve</text>
<text x="25.50" y="382.50" font-size="10.1" fill="#231d0e" textLength="104.50" lengthAdjust="spacingAndGlyphs" stroke="#231d0e" stroke-width="0.15">.'*%RDA(Recommended</text>
<text x="133.70" y="382.50" font-size="10.1" fill="#231d0e" textLength="34.30" lengthAdjust="spacingAndGlyphs" stroke="#231d0e" stroke-width="0.15">Dietary</text>
<text x="172.00" y="382.50" font-size="10.1" fill="#231d0e" textLength="48.00" lengthAdjust="spacingAndGlyphs" stroke="#231d0e" stroke-width="0.15">Allowance</text>
<text x="224.20" y="382.50" font-size="10.1" fill="#231d0e" textLength="13.30" lengthAdjust="spacingAndGlyphs" stroke="#231d0e" stroke-width="0.15">per</text>
<text x="242.00" y="382.50" font-size="10.1" fill="#231d0e" textLength="23.70" lengthAdjust="spacingAndGlyphs" stroke="#231d0e" stroke-width="0.15">serve</text>
<text x="270.50" y="382.50" font-size="10.1" fill="#231d0e" textLength="49.50" lengthAdjust="spacingAndGlyphs" stroke="#231d0e" stroke-width="0.15">calculated</text>
<text x="324.20" y="382.50" font-size="10.1" fill="#231d0e" textLength="10.80" lengthAdjust="spacingAndGlyphs" stroke="#231d0e" stroke-width="0.15">on</text>
<text x="338.70" y="382.50" font-size="10.1" fill="#231d0e" textLength="14.30" lengthAdjust="spacingAndGlyphs" stroke="#231d0e" stroke-width="0.15">the</text>
<text x="357.00" y="382.50" font-size="10.1" fill="#231d0e" textLength="22.50" lengthAdjust="spacingAndGlyphs" stroke="#231d0e" stroke-width="0.15">basis</text>
<text x="383.70" y="382.50" font-size="10.1" fill="#231d0e" textLength="8.30" lengthAdjust="spacingAndGlyphs" stroke="#231d0e" stroke-width="0.15">of</text>
<text x="395.50" y="382.50" font-size="10.1" fill="#231d0e" textLength="43.20" lengthAdjust="spacingAndGlyphs" stroke="#231d0e" stroke-width="0.15">2000Kcal</text>
<text x="25.50" y="395.20" font-size="10.1" fill="#231d0e" textLength="34.50" lengthAdjust="spacingAndGlyphs" stroke="#231d0e" stroke-width="0.15">energy</text>
<text x="63.70" y="395.20" font-size="10.1" fill="#231d0e" textLength="11.80" lengthAdjust="spacingAndGlyphs" stroke="#231d0e" stroke-width="0.15">for</text>
<text x="78.70" y="395.20" font-size="10.1" fill="#231d0e" textLength="10.00" lengthAdjust="spacingAndGlyphs" stroke="#231d0e" stroke-width="0.15">an</text>
<text x="92.50" y="395.20" font-size="10.1" fill="#231d0e" textLength="36.20" lengthAdjust="spacingAndGlyphs" stroke="#231d0e" stroke-width="0.15">average</text>
<text x="132.00" y="395.20" font-size="10.1" fill="#231d0e" textLength="26.70" lengthAdjust="spacingAndGlyphs" stroke="#231d0e" stroke-width="0.15">adult)</text>
</g>
<g font-size="7.5" fill="#fdf6f7">
<text x="10.2" y="454.50" style="letter-spacing:0.343px;word-spacing:0.466px" xml:space="preserve"><tspan font-weight="bold">Sweet corn :</tspan> Corn flour, Rice flour,Gram flour,Rice bran oil,SWEET CORN</text>
<text x="10.2" y="465.15" style="letter-spacing:0.343px;word-spacing:0.693px" xml:space="preserve">SEASONING [Iodized salt,maltodextrin, spices and condiments (Chilli,Fen-</text>
<text x="10.2" y="475.80" style="letter-spacing:0.343px;word-spacing:4.918px" xml:space="preserve">nel, Fenugreek,coriander, pepper,turmeric,mango powder,corn starch,-</text>
<text x="10.2" y="486.45" style="letter-spacing:0.343px;word-spacing:5.000px" xml:space="preserve">dehydrated vegetable powder,Sugar,acidity regulator (INS330), yeast</text>
<text x="10.2" y="497.10" style="letter-spacing:0.343px;word-spacing:-0.154px" xml:space="preserve">extract,natural identical flavouring substances, E627, E631)].</text>
<text x="10.2" y="520.80" style="letter-spacing:0.343px;word-spacing:1.277px" xml:space="preserve"><tspan font-weight="bold">Thai Chilli :</tspan> Corn flour, Rice flour,Gram flour,Rice bran oil, THAI CHILLI</text>
<text x="10.2" y="531.45" style="letter-spacing:0.343px;word-spacing:0.693px" xml:space="preserve">SEASONING [Iodized salt,maltodextrin, spices and condiments (Chilli,Fen-</text>
<text x="10.2" y="542.10" style="letter-spacing:0.343px;word-spacing:2.660px" xml:space="preserve">nel, Fenugreek,coriander, pepper,turmeric,mango powder,corn starch,de-</text>
<text x="10.2" y="552.75" style="letter-spacing:0.343px;word-spacing:6.806px" xml:space="preserve">hydrated vegetable powder,Sugar,acidity regulator (INS330), yeast</text>
<text x="10.2" y="563.40" style="letter-spacing:0.343px;word-spacing:10.846px" xml:space="preserve">extract,natural identical flavouring substances, E627, E631)].</text>
<text x="305.2" y="454.50" style="letter-spacing:0.343px;word-spacing:2.411px" xml:space="preserve"><tspan font-weight="bold">Magic masala :</tspan> Corn flour, Rice flour,Gram flour,Rice bran oil, MAGIC</text>
<text x="305.2" y="465.15" style="letter-spacing:0.343px;word-spacing:2.659px" xml:space="preserve">MASALA SEASONING [Iodized salt,maltodextrin, spices and condiments</text>
<text x="305.2" y="475.80" style="letter-spacing:0.536px;word-spacing:0.779px" xml:space="preserve">(Chilli,Fennel, Fenugreek,coriander, pepper,turmeric,mango powder,corn</text>
<text x="305.2" y="486.45" style="letter-spacing:0.343px;word-spacing:6.414px" xml:space="preserve">starch,dehydrated vegetable powder,Sugar,acidity regulator (INS330),</text>
<text x="305.2" y="497.10" style="letter-spacing:0.343px;word-spacing:-0.055px" xml:space="preserve">yeast extract,natural identical flavouring substances, E627, E631)].</text>
<text x="305.2" y="520.80" style="letter-spacing:0.343px;word-spacing:2.744px" xml:space="preserve"><tspan font-weight="bold">Tangy Tomato :</tspan> Corn flour, Rice flour,Gram flour,Rice bran oil, Tangy</text>
<text x="305.2" y="531.45" style="letter-spacing:0.343px;word-spacing:3.562px" xml:space="preserve">Tomato SEASONING [Iodized salt,maltodextrin, spices and condiments</text>
<text x="305.2" y="542.10" style="letter-spacing:0.536px;word-spacing:0.779px" xml:space="preserve">(Chilli,Fennel, Fenugreek,coriander, pepper,turmeric,mango powder,corn</text>
<text x="305.2" y="552.75" style="letter-spacing:0.343px;word-spacing:6.414px" xml:space="preserve">starch,dehydrated vegetable powder,Sugar,acidity regulator (INS330),</text>
<text x="305.2" y="563.40" style="letter-spacing:0.343px;word-spacing:0.195px" xml:space="preserve">yeast extract,natural identical flavouring substances, E627, E631)].</text>
</g>
</g>
</svg>
</body></html>
